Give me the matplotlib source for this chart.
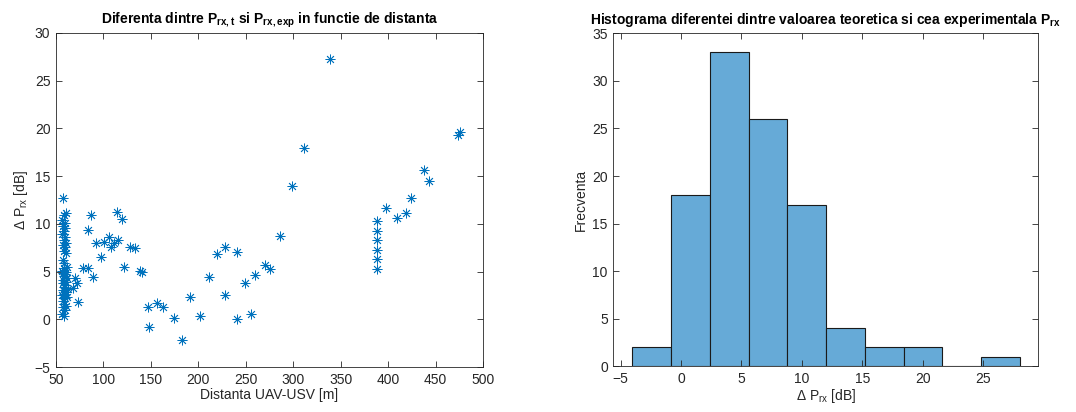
import numpy as np
import matplotlib
matplotlib.use("Agg")
import matplotlib.pyplot as plt

plt.rcParams['font.family'] = ['Liberation Sans', 'DejaVu Sans']
plt.rcParams['mathtext.fontset'] = 'custom'
plt.rcParams['mathtext.rm'] = 'Liberation Sans'
plt.rcParams['mathtext.bf'] = 'Liberation Sans:bold'
plt.rcParams['mathtext.default'] = 'regular'

# ---- scatter data: distance [m] vs delta P_rx [dB] ----
dist_far = [73.5, 70, 72, 68, 86.5, 84, 78.8, 84, 89.3, 92.1, 97.1, 100.9, 106.2, 108,
            111, 115.6, 114, 119.2, 122, 128, 133.2, 138.5, 140.3, 147, 156.7, 163, 148.3,
            174.7, 183.1, 191.5, 201.4, 211.6, 219.7, 228.1, 228.1, 240.4, 240.4, 249.5,
            255.2, 259.4, 270.6, 275.2, 286, 299, 311.3, 338.7,
            388.6, 388.6, 388.6, 388.6, 388.6, 388.6,
            397.7, 409, 418.8, 423.8, 437.8, 443.4, 473.9, 475.7]
dp_far = [1.85, 4.3, 3.8, 3.3, 10.93, 9.36, 5.34, 5.34, 4.46, 7.96, 6.56, 8.13, 8.59, 7.6,
          7.96, 8.31, 11.27, 10.48, 5.51, 7.6, 7.44, 5.1, 5.0, 1.3, 1.67, 1.32, -0.85,
          0.1, -2.17, 2.3, 0.35, 4.46, 6.81, 7.6, 2.58, 7.08, 0.03, 3.8,
          0.55, 4.64, 5.66, 5.24, 8.76, 14.0, 18.0, 27.3,
          10.33, 9.28, 8.31, 7.26, 6.28, 5.27,
          11.7, 10.65, 11.1, 12.67, 15.64, 14.49, 19.31, 19.66]

dist_near = [57.0, 60.5, 58.5, 56.5, 59.5, 57.5, 60.0, 58.0, 56.8,
             59.2, 58.2, 61.0, 57.2, 59.8, 58.8, 60.8, 57.8, 59.0, 61.5,
             58.4, 56.6, 60.2, 57.6, 59.6, 58.6, 61.8, 57.4, 60.4, 56.9, 59.4, 58.1,
             62.5, 57.1, 60.6, 58.9, 56.7, 61.2, 59.1, 57.3,
             58.3, 60.1, 57.9, 59.7, 56.4, 58.7]
dp_near = [12.74, 11.1, 10.9, 10.4, 10.1, 9.78, 9.53, 9.3, 8.9,
           8.6, 8.31, 8.0, 7.78, 7.6, 7.2, 6.9, 6.2, 5.9, 5.5,
           5.34, 5.1, 4.99, 4.85, 4.75, 4.5, 4.3, 4.1, 3.9, 3.77, 3.6, 3.42,
           3.2, 3.07, 2.9, 2.7, 2.55, 2.37, 2.2, 1.9,
           1.6, 1.4, 1.32, 1.0, 0.6, 0.38]

# ---- histogram data ----
bin_edges = [-4.04, -0.83, 2.38, 5.58, 8.79, 11.99, 15.20, 18.41, 21.61, 24.82, 28.03]
bin_counts = [2, 18, 33, 26, 17, 4, 2, 2, 0, 1]

dist = dist_near + dist_far
dp = dp_near + dp_far

fig = plt.figure(figsize=(10.76, 4.12), dpi=100)
ax1 = fig.add_axes([0.052, 0.109, 0.397, 0.811])
ax2 = fig.add_axes([0.570, 0.111, 0.395, 0.808])

axcol = '#262626'
mcol = '#0072BD'

ax1.plot(dist, dp, linestyle='none', marker=(8, 2, 0), markersize=7,
         markeredgewidth=0.6, color=mcol)
ax1.set_xlim(50, 500)
ax1.set_ylim(-5, 30)
ax1.set_xticks(np.arange(50, 501, 50))
ax1.set_yticks(np.arange(-5, 31, 5))
ax1.set_xlabel('Distanta UAV-USV [m]', fontsize=10, color=axcol, labelpad=1)
ax1.set_ylabel(r'$\Delta$ P$_{rx}$ [dB]', fontsize=10, color=axcol, labelpad=3)
ax1.set_title(r'Diferenta dintre P$_{\mathbf{rx,t}}$ si P$_{\mathbf{rx,exp}}$ in functie de distanta',
              fontsize=10, fontweight='bold', color='black', pad=7)

widths = np.diff(bin_edges)
ax2.bar(bin_edges[:-1], bin_counts, width=widths, align='edge',
        color='#66AAD7', edgecolor='#1a1a1a', linewidth=0.8)
ax2.set_xlim(-5.6, 29.55)
ax2.set_ylim(0, 35)
ax2.set_xticks(np.arange(-5, 26, 5))
ax2.set_yticks(np.arange(0, 36, 5))
ax2.set_xlabel(r'$\Delta$ P$_{rx}$ [dB]', fontsize=10, color=axcol, labelpad=1)
ax2.set_ylabel('Frecventa', fontsize=10, color=axcol, labelpad=3)
ax2.set_title(r'Histograma diferentei dintre valoarea teoretica si cea experimentala P$_{\mathbf{rx}}$',
              fontsize=10, fontweight='bold', color='black', pad=7)

for ax in (ax1, ax2):
    for s in ax.spines.values():
        s.set_color(axcol)
        s.set_linewidth(0.6)
    ax.tick_params(direction='in', top=True, right=True, length=4, width=0.6,
                   color=axcol, labelcolor=axcol, labelsize=10, pad=4)

fig.savefig('out.png', dpi=100)
